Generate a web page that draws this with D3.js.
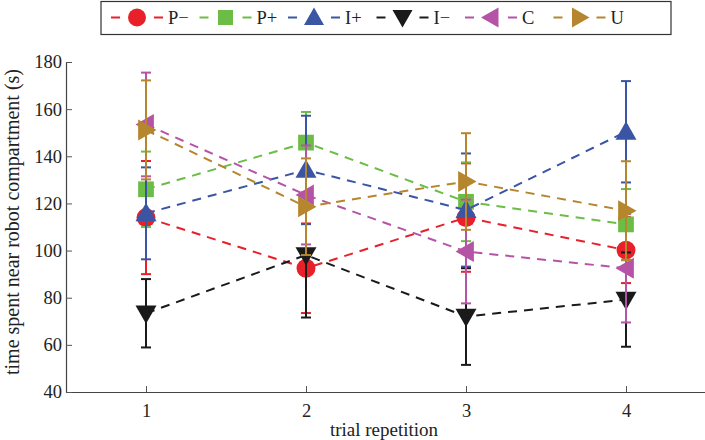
<!DOCTYPE html>
<html><head><meta charset="utf-8">
<script src="https://cdn.jsdelivr.net/npm/d3@7"></script>
<style>body{margin:0;background:#fff}svg{display:block}text{font-family:"Liberation Serif","Times New Roman",serif}</style>
</head><body><svg id="c" width="705" height="440"></svg>
<script>
const trials = [1, 2, 3, 4];
const seriesNames = ["P\u2212", "P+", "I+", "I\u2212", "C", "U"];
const meanPminus = [114, 92.5, 114, 100.2];
const errPminus  = [24, 19, 23, 14];
const meanPplus  = [126, 145.8, 120.7, 111.1];
const errPplus   = [16, 13, 16.7, 15];
const meanIplus  = [115.8, 134.2, 117.2, 150.4];
const errIplus   = [19.5, 23, 24, 21.5];
const meanIminus = [73.4, 98.1, 72, 79.2];
const errIminus  = [14.5, 26.5, 20.5, 20];
const meanC      = [153.5, 123.6, 99.6, 92.5];
const errC       = [22, 21, 22, 23];
const meanU      = [151.2, 118.6, 129.3, 116.9];
const errU       = [21, 20.5, 20.5, 21];
const yTicks = [40, 60, 80, 100, 120, 140, 160, 180];

const colors = ["#e8202a", "#6cbd45", "#3a55a4", "#1a1a1a", "#b554a6", "#b5862e"];
const markers = ["circle", "square", "up", "down", "left", "right"];
const means = [meanPminus, meanPplus, meanIplus, meanIminus, meanC, meanU];
const errs = [errPminus, errPplus, errIplus, errIminus, errC, errU];

const svg = d3.select("#c");
const x = d3.scaleLinear().domain([0.5, 4.5]).range([66, 706]);
const y = d3.scaleLinear().domain([40, 180]).range([392, 62]);

function markerPath(type, s) {
  const h = s * 0.5;
  switch (type) {
    case "square": return `M${-h*0.75},${-h*0.75}H${h*0.75}V${h*0.75}H${-h*0.75}Z`;
    case "up": return `M0,${-h}L${h},${h*0.75}L${-h},${h*0.75}Z`;
    case "down": return `M0,${h}L${h},${-h*0.75}L${-h},${-h*0.75}Z`;
    case "left": return `M${-h},0L${h*0.75},${-h}L${h*0.75},${h}Z`;
    case "right": return `M${h},0L${-h*0.75},${-h}L${-h*0.75},${h}Z`;
  }
}
function drawMarker(g, type, cx, cy, color, s) {
  if (type === "circle") g.append("circle").attr("cx", cx).attr("cy", cy).attr("r", s * 0.45).attr("fill", color);
  else g.append("path").attr("d", markerPath(type, s)).attr("transform", `translate(${cx},${cy})`).attr("fill", color);
}

// axes
const gx = svg.append("g").attr("transform", `translate(0,${y(40)})`)
  .call(d3.axisBottom(x).tickValues(trials).tickFormat(d3.format("d")).tickSizeInner(-6).tickSizeOuter(0).tickPadding(12));
const gy = svg.append("g").attr("transform", `translate(${x(0.5)},0)`)
  .call(d3.axisLeft(y).tickValues(yTicks).tickSizeInner(-6).tickSizeOuter(0).tickPadding(4));
[gx, gy].forEach(g => {
  g.select(".domain").attr("stroke", "#444").attr("stroke-width", 1.2);
  g.selectAll(".tick line").attr("stroke", "#555");
  g.selectAll(".tick text").attr("font-size", 18.5).attr("fill", "#222").attr("font-family", "Liberation Serif");
});

svg.append("text").attr("x", 384).attr("y", 436).attr("text-anchor", "middle")
  .attr("font-size", 19).attr("fill", "#222").text("trial repetition");
svg.append("text").attr("transform", "translate(19,222) rotate(-90)").attr("text-anchor", "middle")
  .attr("font-size", 20).attr("fill", "#222").text("time spent near robot compartment (s)");

// series
const line = d3.line().x((d, i) => x(trials[i])).y(d => y(d));
seriesNames.forEach((name, si) => {
  const g = svg.append("g");
  const c = colors[si];
  means[si].forEach((m, i) => {
    const cx = x(trials[i]), e = errs[si][i];
    g.append("line").attr("x1", cx).attr("x2", cx).attr("y1", y(m - e)).attr("y2", y(m + e)).attr("stroke", c).attr("stroke-width", 2);
    [m - e, m + e].forEach(v => g.append("line").attr("x1", cx - 5).attr("x2", cx + 5).attr("y1", y(v)).attr("y2", y(v)).attr("stroke", c).attr("stroke-width", 2));
  });
  g.append("path").datum(means[si]).attr("d", line).attr("fill", "none").attr("stroke", c)
    .attr("stroke-width", 2).attr("stroke-dasharray", "9,7");
  means[si].forEach((m, i) => drawMarker(g, markers[si], x(trials[i]), y(m), c, 21));
});

// legend
const lg = svg.append("g");
lg.append("rect").attr("x", 101).attr("y", 1.5).attr("width", 570).attr("height", 33)
  .attr("fill", "#fff").attr("stroke", "#333").attr("stroke-width", 1.2);
seriesNames.forEach((name, si) => {
  const x0 = 111 + si * 88.5, cy = 17.5, c = colors[si];
  lg.append("line").attr("x1", x0).attr("x2", x0 + 9).attr("y1", cy).attr("y2", cy).attr("stroke", c).attr("stroke-width", 2);
  lg.append("line").attr("x1", x0 + 43).attr("x2", x0 + 52).attr("y1", cy).attr("y2", cy).attr("stroke", c).attr("stroke-width", 2);
  drawMarker(lg, markers[si], x0 + 26, cy, c, 20);
  lg.append("text").attr("x", x0 + 57).attr("y", cy + 6).attr("font-size", 18.5).attr("fill", "#222").text(name);
});
</script></body></html>
